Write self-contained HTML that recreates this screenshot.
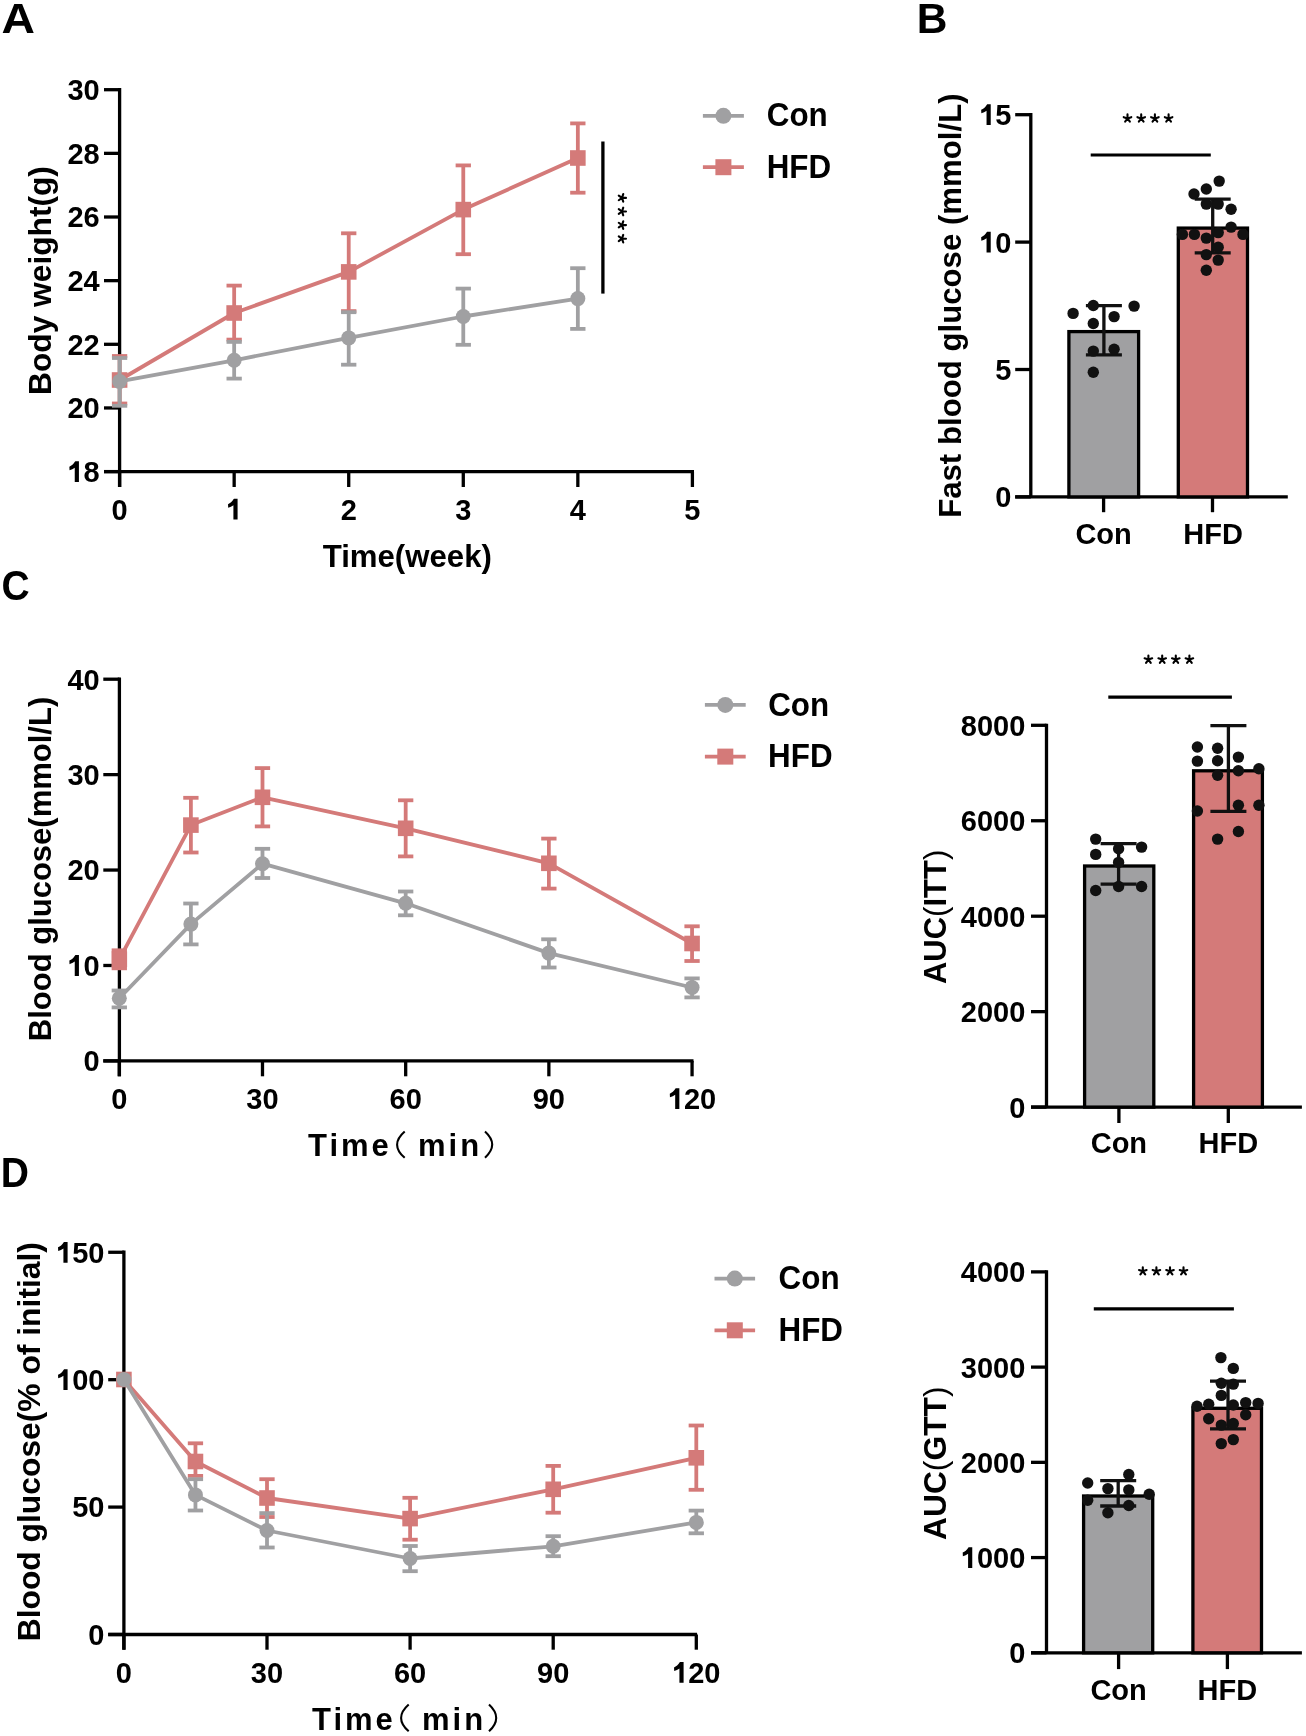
<!DOCTYPE html>
<html><head><meta charset="utf-8"><style>
html,body{margin:0;padding:0;background:#fff;}
svg{display:block;will-change:transform;}
text{font-family:"Liberation Sans",sans-serif;fill:#000;}
</style></head><body>
<svg width="1306" height="1736" viewBox="0 0 1306 1736">
<rect width="1306" height="1736" fill="#fff"/>
<text x="0" y="0" font-size="43.3" font-weight="bold" transform="translate(1.5 32.8) scale(1.07 1)">A</text>
<line x1="119.60" y1="88.05" x2="119.60" y2="487.00" stroke="#000" stroke-width="3.3" stroke-linecap="butt"/>
<line x1="104.00" y1="471.60" x2="119.60" y2="471.60" stroke="#000" stroke-width="3.3" stroke-linecap="butt"/>
<path d="M0.396,0 L0.252,0 L0.252,0.492 C0.20,0.45 0.14,0.425 0.072,0.405 L0.066,0.53 C0.14,0.56 0.21,0.62 0.262,0.705 L0.275,0.717 L0.396,0.717 Z" fill="#000" transform="translate(67.44 482.00) scale(29 -29)"/>
<text x="83.57" y="482.00" font-size="29" font-weight="bold">8</text>
<line x1="104.00" y1="407.95" x2="119.60" y2="407.95" stroke="#000" stroke-width="3.3" stroke-linecap="butt"/>
<text x="67.44" y="418.35" font-size="29" font-weight="bold">20</text>
<line x1="104.00" y1="344.30" x2="119.60" y2="344.30" stroke="#000" stroke-width="3.3" stroke-linecap="butt"/>
<text x="67.44" y="354.70" font-size="29" font-weight="bold">22</text>
<line x1="104.00" y1="280.65" x2="119.60" y2="280.65" stroke="#000" stroke-width="3.3" stroke-linecap="butt"/>
<text x="67.44" y="291.05" font-size="29" font-weight="bold">24</text>
<line x1="104.00" y1="217.00" x2="119.60" y2="217.00" stroke="#000" stroke-width="3.3" stroke-linecap="butt"/>
<text x="67.44" y="227.40" font-size="29" font-weight="bold">26</text>
<line x1="104.00" y1="153.35" x2="119.60" y2="153.35" stroke="#000" stroke-width="3.3" stroke-linecap="butt"/>
<text x="67.44" y="163.75" font-size="29" font-weight="bold">28</text>
<line x1="104.00" y1="89.70" x2="119.60" y2="89.70" stroke="#000" stroke-width="3.3" stroke-linecap="butt"/>
<text x="67.44" y="100.10" font-size="29" font-weight="bold">30</text>
<line x1="104.00" y1="471.60" x2="694.00" y2="471.60" stroke="#000" stroke-width="3.3" stroke-linecap="butt"/>
<line x1="119.60" y1="471.60" x2="119.60" y2="487.00" stroke="#000" stroke-width="3.3" stroke-linecap="butt"/>
<text x="111.54" y="519.50" font-size="29" font-weight="bold">0</text>
<line x1="234.16" y1="471.60" x2="234.16" y2="487.00" stroke="#000" stroke-width="3.3" stroke-linecap="butt"/>
<path d="M0.396,0 L0.252,0 L0.252,0.492 C0.20,0.45 0.14,0.425 0.072,0.405 L0.066,0.53 C0.14,0.56 0.21,0.62 0.262,0.705 L0.275,0.717 L0.396,0.717 Z" fill="#000" transform="translate(226.10 519.50) scale(29 -29)"/>
<line x1="348.72" y1="471.60" x2="348.72" y2="487.00" stroke="#000" stroke-width="3.3" stroke-linecap="butt"/>
<text x="340.66" y="519.50" font-size="29" font-weight="bold">2</text>
<line x1="463.28" y1="471.60" x2="463.28" y2="487.00" stroke="#000" stroke-width="3.3" stroke-linecap="butt"/>
<text x="455.22" y="519.50" font-size="29" font-weight="bold">3</text>
<line x1="577.84" y1="471.60" x2="577.84" y2="487.00" stroke="#000" stroke-width="3.3" stroke-linecap="butt"/>
<text x="569.78" y="519.50" font-size="29" font-weight="bold">4</text>
<line x1="692.40" y1="471.60" x2="692.40" y2="487.00" stroke="#000" stroke-width="3.3" stroke-linecap="butt"/>
<text x="684.34" y="519.50" font-size="29" font-weight="bold">5</text>
<text x="407.30" y="567.20" font-size="31.2" text-anchor="middle" font-weight="bold">Time(week)</text>
<text x="51.00" y="280.50" font-size="31.7" text-anchor="middle" font-weight="bold" transform="rotate(-90 51.00 280.50)">Body weight(g)</text>
<line x1="119.60" y1="356.00" x2="119.60" y2="403.50" stroke="#d47a79" stroke-width="3.8" stroke-linecap="butt"/>
<line x1="111.95" y1="356.00" x2="127.25" y2="356.00" stroke="#d47a79" stroke-width="3.8" stroke-linecap="butt"/>
<line x1="111.95" y1="403.50" x2="127.25" y2="403.50" stroke="#d47a79" stroke-width="3.8" stroke-linecap="butt"/>
<line x1="234.16" y1="285.60" x2="234.16" y2="339.60" stroke="#d47a79" stroke-width="3.8" stroke-linecap="butt"/>
<line x1="226.51" y1="285.60" x2="241.81" y2="285.60" stroke="#d47a79" stroke-width="3.8" stroke-linecap="butt"/>
<line x1="226.51" y1="339.60" x2="241.81" y2="339.60" stroke="#d47a79" stroke-width="3.8" stroke-linecap="butt"/>
<line x1="348.72" y1="233.30" x2="348.72" y2="311.10" stroke="#d47a79" stroke-width="3.8" stroke-linecap="butt"/>
<line x1="341.07" y1="233.30" x2="356.37" y2="233.30" stroke="#d47a79" stroke-width="3.8" stroke-linecap="butt"/>
<line x1="341.07" y1="311.10" x2="356.37" y2="311.10" stroke="#d47a79" stroke-width="3.8" stroke-linecap="butt"/>
<line x1="463.28" y1="165.40" x2="463.28" y2="254.20" stroke="#d47a79" stroke-width="3.8" stroke-linecap="butt"/>
<line x1="455.63" y1="165.40" x2="470.93" y2="165.40" stroke="#d47a79" stroke-width="3.8" stroke-linecap="butt"/>
<line x1="455.63" y1="254.20" x2="470.93" y2="254.20" stroke="#d47a79" stroke-width="3.8" stroke-linecap="butt"/>
<line x1="577.84" y1="123.40" x2="577.84" y2="192.70" stroke="#d47a79" stroke-width="3.8" stroke-linecap="butt"/>
<line x1="570.19" y1="123.40" x2="585.49" y2="123.40" stroke="#d47a79" stroke-width="3.8" stroke-linecap="butt"/>
<line x1="570.19" y1="192.70" x2="585.49" y2="192.70" stroke="#d47a79" stroke-width="3.8" stroke-linecap="butt"/>
<path d="M119.60,380.00 L234.16,313.00 L348.72,271.90 L463.28,209.60 L577.84,158.00" fill="none" stroke="#d47a79" stroke-width="3.8" stroke-linejoin="round"/>
<rect x="111.80" y="372.20" width="15.6" height="15.6" fill="#d47a79"/>
<rect x="226.36" y="305.20" width="15.6" height="15.6" fill="#d47a79"/>
<rect x="340.92" y="264.10" width="15.6" height="15.6" fill="#d47a79"/>
<rect x="455.48" y="201.80" width="15.6" height="15.6" fill="#d47a79"/>
<rect x="570.04" y="150.20" width="15.6" height="15.6" fill="#d47a79"/>
<line x1="119.60" y1="358.00" x2="119.60" y2="405.80" stroke="#a0a0a2" stroke-width="3.8" stroke-linecap="butt"/>
<line x1="111.95" y1="358.00" x2="127.25" y2="358.00" stroke="#a0a0a2" stroke-width="3.8" stroke-linecap="butt"/>
<line x1="111.95" y1="405.80" x2="127.25" y2="405.80" stroke="#a0a0a2" stroke-width="3.8" stroke-linecap="butt"/>
<line x1="234.16" y1="341.90" x2="234.16" y2="378.60" stroke="#a0a0a2" stroke-width="3.8" stroke-linecap="butt"/>
<line x1="226.51" y1="341.90" x2="241.81" y2="341.90" stroke="#a0a0a2" stroke-width="3.8" stroke-linecap="butt"/>
<line x1="226.51" y1="378.60" x2="241.81" y2="378.60" stroke="#a0a0a2" stroke-width="3.8" stroke-linecap="butt"/>
<line x1="348.72" y1="312.20" x2="348.72" y2="364.70" stroke="#a0a0a2" stroke-width="3.8" stroke-linecap="butt"/>
<line x1="341.07" y1="312.20" x2="356.37" y2="312.20" stroke="#a0a0a2" stroke-width="3.8" stroke-linecap="butt"/>
<line x1="341.07" y1="364.70" x2="356.37" y2="364.70" stroke="#a0a0a2" stroke-width="3.8" stroke-linecap="butt"/>
<line x1="463.28" y1="288.60" x2="463.28" y2="344.80" stroke="#a0a0a2" stroke-width="3.8" stroke-linecap="butt"/>
<line x1="455.63" y1="288.60" x2="470.93" y2="288.60" stroke="#a0a0a2" stroke-width="3.8" stroke-linecap="butt"/>
<line x1="455.63" y1="344.80" x2="470.93" y2="344.80" stroke="#a0a0a2" stroke-width="3.8" stroke-linecap="butt"/>
<line x1="577.84" y1="268.20" x2="577.84" y2="328.90" stroke="#a0a0a2" stroke-width="3.8" stroke-linecap="butt"/>
<line x1="570.19" y1="268.20" x2="585.49" y2="268.20" stroke="#a0a0a2" stroke-width="3.8" stroke-linecap="butt"/>
<line x1="570.19" y1="328.90" x2="585.49" y2="328.90" stroke="#a0a0a2" stroke-width="3.8" stroke-linecap="butt"/>
<path d="M119.60,381.40 L234.16,360.30 L348.72,337.90 L463.28,316.50 L577.84,298.60" fill="none" stroke="#a0a0a2" stroke-width="3.8" stroke-linejoin="round"/>
<circle cx="119.60" cy="381.40" r="7.5" fill="#a0a0a2"/>
<circle cx="234.16" cy="360.30" r="7.5" fill="#a0a0a2"/>
<circle cx="348.72" cy="337.90" r="7.5" fill="#a0a0a2"/>
<circle cx="463.28" cy="316.50" r="7.5" fill="#a0a0a2"/>
<circle cx="577.84" cy="298.60" r="7.5" fill="#a0a0a2"/>
<line x1="602.90" y1="141.50" x2="602.90" y2="293.60" stroke="#000" stroke-width="3.3" stroke-linecap="butt"/>
<path d="M622.00,197.90 L626.00,197.90 M622.00,197.90 L623.24,201.70 M622.00,197.90 L618.76,200.25 M622.00,197.90 L618.76,195.55 M622.00,197.90 L623.24,194.10 " stroke="#000" stroke-width="2.1" stroke-linecap="round" fill="none"/>
<path d="M622.00,211.50 L626.00,211.50 M622.00,211.50 L623.24,215.30 M622.00,211.50 L618.76,213.85 M622.00,211.50 L618.76,209.15 M622.00,211.50 L623.24,207.70 " stroke="#000" stroke-width="2.1" stroke-linecap="round" fill="none"/>
<path d="M622.00,225.10 L626.00,225.10 M622.00,225.10 L623.24,228.90 M622.00,225.10 L618.76,227.45 M622.00,225.10 L618.76,222.75 M622.00,225.10 L623.24,221.30 " stroke="#000" stroke-width="2.1" stroke-linecap="round" fill="none"/>
<path d="M622.00,238.70 L626.00,238.70 M622.00,238.70 L623.24,242.50 M622.00,238.70 L618.76,241.05 M622.00,238.70 L618.76,236.35 M622.00,238.70 L623.24,234.90 " stroke="#000" stroke-width="2.1" stroke-linecap="round" fill="none"/>
<line x1="702.90" y1="115.80" x2="743.90" y2="115.80" stroke="#a0a0a2" stroke-width="3.8" stroke-linecap="butt"/>
<circle cx="723.40" cy="115.80" r="8" fill="#a0a0a2"/>
<line x1="702.90" y1="167.20" x2="743.90" y2="167.20" stroke="#d47a79" stroke-width="3.8" stroke-linecap="butt"/>
<rect x="715.40" y="159.20" width="16" height="16" fill="#d47a79"/>
<text x="0" y="0" font-size="32.5" font-weight="bold" transform="translate(766.80 126.3) scale(0.965 1)">Con</text>
<text x="0" y="0" font-size="32.5" font-weight="bold" transform="translate(766.70 177.6) scale(0.965 1)">HFD</text>
<text x="0" y="0" font-size="43.3" font-weight="bold" transform="translate(916.8 32.8) scale(0.98 1)">B</text>
<line x1="1030.80" y1="113.05" x2="1030.80" y2="496.90" stroke="#000" stroke-width="3.3" stroke-linecap="butt"/>
<line x1="1015.20" y1="496.90" x2="1030.80" y2="496.90" stroke="#000" stroke-width="3.3" stroke-linecap="butt"/>
<text x="995.37" y="507.30" font-size="29" font-weight="bold">0</text>
<line x1="1015.20" y1="369.50" x2="1030.80" y2="369.50" stroke="#000" stroke-width="3.3" stroke-linecap="butt"/>
<text x="995.37" y="379.90" font-size="29" font-weight="bold">5</text>
<line x1="1015.20" y1="242.10" x2="1030.80" y2="242.10" stroke="#000" stroke-width="3.3" stroke-linecap="butt"/>
<path d="M0.396,0 L0.252,0 L0.252,0.492 C0.20,0.45 0.14,0.425 0.072,0.405 L0.066,0.53 C0.14,0.56 0.21,0.62 0.262,0.705 L0.275,0.717 L0.396,0.717 Z" fill="#000" transform="translate(979.24 252.50) scale(29 -29)"/>
<text x="995.37" y="252.50" font-size="29" font-weight="bold">0</text>
<line x1="1015.20" y1="114.70" x2="1030.80" y2="114.70" stroke="#000" stroke-width="3.3" stroke-linecap="butt"/>
<path d="M0.396,0 L0.252,0 L0.252,0.492 C0.20,0.45 0.14,0.425 0.072,0.405 L0.066,0.53 C0.14,0.56 0.21,0.62 0.262,0.705 L0.275,0.717 L0.396,0.717 Z" fill="#000" transform="translate(979.24 125.10) scale(29 -29)"/>
<text x="995.37" y="125.10" font-size="29" font-weight="bold">5</text>
<line x1="1015.20" y1="496.90" x2="1287.80" y2="496.90" stroke="#000" stroke-width="3.3" stroke-linecap="butt"/>
<line x1="1103.60" y1="496.90" x2="1103.60" y2="512.20" stroke="#000" stroke-width="3.3" stroke-linecap="butt"/>
<line x1="1212.50" y1="496.90" x2="1212.50" y2="512.20" stroke="#000" stroke-width="3.3" stroke-linecap="butt"/>
<text x="1103.60" y="543.70" font-size="29" text-anchor="middle" font-weight="bold">Con</text>
<text x="1213.10" y="543.70" font-size="29" text-anchor="middle" font-weight="bold">HFD</text>
<text x="961.00" y="305.60" font-size="31.2" text-anchor="middle" font-weight="bold" transform="rotate(-90 961.00 305.60)">Fast blood glucose (mmol/L)</text>
<rect x="1068.90" y="331.60" width="69.70" height="165.30" fill="#a0a0a2" stroke="#000" stroke-width="3.3"/>
<rect x="1178.30" y="228.10" width="69.20" height="268.80" fill="#d47a79" stroke="#000" stroke-width="3.3"/>
<line x1="1103.90" y1="305.70" x2="1103.90" y2="354.80" stroke="#111" stroke-width="3.3" stroke-linecap="butt"/>
<line x1="1085.90" y1="305.70" x2="1121.90" y2="305.70" stroke="#111" stroke-width="3.3" stroke-linecap="butt"/>
<line x1="1085.90" y1="354.80" x2="1121.90" y2="354.80" stroke="#111" stroke-width="3.3" stroke-linecap="butt"/>
<line x1="1212.70" y1="199.10" x2="1212.70" y2="252.80" stroke="#111" stroke-width="3.3" stroke-linecap="butt"/>
<line x1="1194.70" y1="199.10" x2="1230.70" y2="199.10" stroke="#111" stroke-width="3.3" stroke-linecap="butt"/>
<line x1="1194.70" y1="252.80" x2="1230.70" y2="252.80" stroke="#111" stroke-width="3.3" stroke-linecap="butt"/>
<circle cx="1073.10" cy="313.40" r="5.7" fill="#111"/>
<circle cx="1093.30" cy="305.50" r="5.7" fill="#111"/>
<circle cx="1134.10" cy="306.10" r="5.7" fill="#111"/>
<circle cx="1114.10" cy="316.60" r="5.7" fill="#111"/>
<circle cx="1093.30" cy="323.50" r="5.7" fill="#111"/>
<circle cx="1093.30" cy="351.10" r="5.7" fill="#111"/>
<circle cx="1114.10" cy="349.30" r="5.7" fill="#111"/>
<circle cx="1093.30" cy="372.20" r="5.7" fill="#111"/>
<circle cx="1219.20" cy="181.10" r="5.7" fill="#111"/>
<circle cx="1206.30" cy="189.00" r="5.7" fill="#111"/>
<circle cx="1194.00" cy="194.00" r="5.7" fill="#111"/>
<circle cx="1206.30" cy="204.10" r="5.7" fill="#111"/>
<circle cx="1218.20" cy="204.10" r="5.7" fill="#111"/>
<circle cx="1231.10" cy="209.20" r="5.7" fill="#111"/>
<circle cx="1231.10" cy="227.10" r="5.7" fill="#111"/>
<circle cx="1182.40" cy="234.40" r="5.7" fill="#111"/>
<circle cx="1194.40" cy="234.40" r="5.7" fill="#111"/>
<circle cx="1206.30" cy="238.10" r="5.7" fill="#111"/>
<circle cx="1218.20" cy="232.60" r="5.7" fill="#111"/>
<circle cx="1243.00" cy="234.40" r="5.7" fill="#111"/>
<circle cx="1218.20" cy="247.30" r="5.7" fill="#111"/>
<circle cx="1206.30" cy="254.60" r="5.7" fill="#111"/>
<circle cx="1218.20" cy="260.10" r="5.7" fill="#111"/>
<circle cx="1206.30" cy="270.30" r="5.7" fill="#111"/>
<line x1="1090.70" y1="155.00" x2="1210.80" y2="155.00" stroke="#000" stroke-width="3.2" stroke-linecap="butt"/>
<path d="M1127.50,118.40 L1127.50,114.40 M1127.50,118.40 L1131.30,117.16 M1127.50,118.40 L1129.85,121.64 M1127.50,118.40 L1125.15,121.64 M1127.50,118.40 L1123.70,117.16 " stroke="#000" stroke-width="2.1" stroke-linecap="round" fill="none"/>
<path d="M1141.20,118.40 L1141.20,114.40 M1141.20,118.40 L1145.00,117.16 M1141.20,118.40 L1143.55,121.64 M1141.20,118.40 L1138.85,121.64 M1141.20,118.40 L1137.40,117.16 " stroke="#000" stroke-width="2.1" stroke-linecap="round" fill="none"/>
<path d="M1154.90,118.40 L1154.90,114.40 M1154.90,118.40 L1158.70,117.16 M1154.90,118.40 L1157.25,121.64 M1154.90,118.40 L1152.55,121.64 M1154.90,118.40 L1151.10,117.16 " stroke="#000" stroke-width="2.1" stroke-linecap="round" fill="none"/>
<path d="M1168.60,118.40 L1168.60,114.40 M1168.60,118.40 L1172.40,117.16 M1168.60,118.40 L1170.95,121.64 M1168.60,118.40 L1166.25,121.64 M1168.60,118.40 L1164.80,117.16 " stroke="#000" stroke-width="2.1" stroke-linecap="round" fill="none"/>
<text x="0" y="0" font-size="43.3" font-weight="bold" transform="translate(1.5 599.6) scale(0.9 1)">C</text>
<line x1="119.40" y1="677.55" x2="119.40" y2="1076.30" stroke="#000" stroke-width="3.3" stroke-linecap="butt"/>
<line x1="103.30" y1="1060.90" x2="119.40" y2="1060.90" stroke="#000" stroke-width="3.3" stroke-linecap="butt"/>
<text x="83.57" y="1071.30" font-size="29" font-weight="bold">0</text>
<line x1="103.30" y1="965.48" x2="119.40" y2="965.48" stroke="#000" stroke-width="3.3" stroke-linecap="butt"/>
<path d="M0.396,0 L0.252,0 L0.252,0.492 C0.20,0.45 0.14,0.425 0.072,0.405 L0.066,0.53 C0.14,0.56 0.21,0.62 0.262,0.705 L0.275,0.717 L0.396,0.717 Z" fill="#000" transform="translate(67.44 975.88) scale(29 -29)"/>
<text x="83.57" y="975.88" font-size="29" font-weight="bold">0</text>
<line x1="103.30" y1="870.05" x2="119.40" y2="870.05" stroke="#000" stroke-width="3.3" stroke-linecap="butt"/>
<text x="67.44" y="880.45" font-size="29" font-weight="bold">20</text>
<line x1="103.30" y1="774.62" x2="119.40" y2="774.62" stroke="#000" stroke-width="3.3" stroke-linecap="butt"/>
<text x="67.44" y="785.02" font-size="29" font-weight="bold">30</text>
<line x1="103.30" y1="679.20" x2="119.40" y2="679.20" stroke="#000" stroke-width="3.3" stroke-linecap="butt"/>
<text x="67.44" y="689.60" font-size="29" font-weight="bold">40</text>
<line x1="103.30" y1="1060.90" x2="693.50" y2="1060.90" stroke="#000" stroke-width="3.3" stroke-linecap="butt"/>
<line x1="119.30" y1="1060.90" x2="119.30" y2="1076.30" stroke="#000" stroke-width="3.3" stroke-linecap="butt"/>
<text x="111.24" y="1109.00" font-size="29" font-weight="bold">0</text>
<line x1="262.49" y1="1060.90" x2="262.49" y2="1076.30" stroke="#000" stroke-width="3.3" stroke-linecap="butt"/>
<text x="246.36" y="1109.00" font-size="29" font-weight="bold">30</text>
<line x1="405.68" y1="1060.90" x2="405.68" y2="1076.30" stroke="#000" stroke-width="3.3" stroke-linecap="butt"/>
<text x="389.55" y="1109.00" font-size="29" font-weight="bold">60</text>
<line x1="548.87" y1="1060.90" x2="548.87" y2="1076.30" stroke="#000" stroke-width="3.3" stroke-linecap="butt"/>
<text x="532.74" y="1109.00" font-size="29" font-weight="bold">90</text>
<line x1="692.06" y1="1060.90" x2="692.06" y2="1076.30" stroke="#000" stroke-width="3.3" stroke-linecap="butt"/>
<path d="M0.396,0 L0.252,0 L0.252,0.492 C0.20,0.45 0.14,0.425 0.072,0.405 L0.066,0.53 C0.14,0.56 0.21,0.62 0.262,0.705 L0.275,0.717 L0.396,0.717 Z" fill="#000" transform="translate(667.87 1109.00) scale(29 -29)"/>
<text x="684.00" y="1109.00" font-size="29" font-weight="bold">2</text>
<text x="700.12" y="1109.00" font-size="29" font-weight="bold">0</text>
<text x="308.00" y="1156.10" font-size="31" text-anchor="start" font-weight="bold" letter-spacing="3">Time</text>
<path d="M404.7,1131.5 Q389.5,1144.7 404.7,1157.8" fill="none" stroke="#000" stroke-width="2.1"/>
<text x="418.00" y="1156.10" font-size="31" text-anchor="start" font-weight="bold" letter-spacing="3">min</text>
<path d="M485,1131.5 Q499.4,1144.6 485,1157.7" fill="none" stroke="#000" stroke-width="2.1"/>
<text x="51.00" y="869.00" font-size="31" text-anchor="middle" font-weight="bold" transform="rotate(-90 51.00 869.00)">Blood glucose(mmol/L)</text>
<line x1="119.30" y1="950.30" x2="119.30" y2="968.30" stroke="#d47a79" stroke-width="3.8" stroke-linecap="butt"/>
<line x1="111.65" y1="950.30" x2="126.95" y2="950.30" stroke="#d47a79" stroke-width="3.8" stroke-linecap="butt"/>
<line x1="111.65" y1="968.30" x2="126.95" y2="968.30" stroke="#d47a79" stroke-width="3.8" stroke-linecap="butt"/>
<line x1="190.89" y1="797.80" x2="190.89" y2="852.50" stroke="#d47a79" stroke-width="3.8" stroke-linecap="butt"/>
<line x1="183.24" y1="797.80" x2="198.54" y2="797.80" stroke="#d47a79" stroke-width="3.8" stroke-linecap="butt"/>
<line x1="183.24" y1="852.50" x2="198.54" y2="852.50" stroke="#d47a79" stroke-width="3.8" stroke-linecap="butt"/>
<line x1="262.49" y1="768.10" x2="262.49" y2="826.40" stroke="#d47a79" stroke-width="3.8" stroke-linecap="butt"/>
<line x1="254.84" y1="768.10" x2="270.14" y2="768.10" stroke="#d47a79" stroke-width="3.8" stroke-linecap="butt"/>
<line x1="254.84" y1="826.40" x2="270.14" y2="826.40" stroke="#d47a79" stroke-width="3.8" stroke-linecap="butt"/>
<line x1="405.68" y1="800.30" x2="405.68" y2="856.40" stroke="#d47a79" stroke-width="3.8" stroke-linecap="butt"/>
<line x1="398.03" y1="800.30" x2="413.33" y2="800.30" stroke="#d47a79" stroke-width="3.8" stroke-linecap="butt"/>
<line x1="398.03" y1="856.40" x2="413.33" y2="856.40" stroke="#d47a79" stroke-width="3.8" stroke-linecap="butt"/>
<line x1="548.87" y1="838.60" x2="548.87" y2="888.60" stroke="#d47a79" stroke-width="3.8" stroke-linecap="butt"/>
<line x1="541.22" y1="838.60" x2="556.52" y2="838.60" stroke="#d47a79" stroke-width="3.8" stroke-linecap="butt"/>
<line x1="541.22" y1="888.60" x2="556.52" y2="888.60" stroke="#d47a79" stroke-width="3.8" stroke-linecap="butt"/>
<line x1="692.06" y1="926.30" x2="692.06" y2="961.00" stroke="#d47a79" stroke-width="3.8" stroke-linecap="butt"/>
<line x1="684.41" y1="926.30" x2="699.71" y2="926.30" stroke="#d47a79" stroke-width="3.8" stroke-linecap="butt"/>
<line x1="684.41" y1="961.00" x2="699.71" y2="961.00" stroke="#d47a79" stroke-width="3.8" stroke-linecap="butt"/>
<path d="M119.30,959.30 L190.89,825.10 L262.49,797.30 L405.68,828.30 L548.87,863.30 L692.06,943.50" fill="none" stroke="#d47a79" stroke-width="3.8" stroke-linejoin="round"/>
<rect x="111.50" y="951.50" width="15.6" height="15.6" fill="#d47a79"/>
<rect x="183.09" y="817.30" width="15.6" height="15.6" fill="#d47a79"/>
<rect x="254.69" y="789.50" width="15.6" height="15.6" fill="#d47a79"/>
<rect x="397.88" y="820.50" width="15.6" height="15.6" fill="#d47a79"/>
<rect x="541.07" y="855.50" width="15.6" height="15.6" fill="#d47a79"/>
<rect x="684.26" y="935.70" width="15.6" height="15.6" fill="#d47a79"/>
<line x1="119.30" y1="990.50" x2="119.30" y2="1007.40" stroke="#a0a0a2" stroke-width="3.8" stroke-linecap="butt"/>
<line x1="111.65" y1="990.50" x2="126.95" y2="990.50" stroke="#a0a0a2" stroke-width="3.8" stroke-linecap="butt"/>
<line x1="111.65" y1="1007.40" x2="126.95" y2="1007.40" stroke="#a0a0a2" stroke-width="3.8" stroke-linecap="butt"/>
<line x1="190.89" y1="903.50" x2="190.89" y2="944.40" stroke="#a0a0a2" stroke-width="3.8" stroke-linecap="butt"/>
<line x1="183.24" y1="903.50" x2="198.54" y2="903.50" stroke="#a0a0a2" stroke-width="3.8" stroke-linecap="butt"/>
<line x1="183.24" y1="944.40" x2="198.54" y2="944.40" stroke="#a0a0a2" stroke-width="3.8" stroke-linecap="butt"/>
<line x1="262.49" y1="848.80" x2="262.49" y2="878.00" stroke="#a0a0a2" stroke-width="3.8" stroke-linecap="butt"/>
<line x1="254.84" y1="848.80" x2="270.14" y2="848.80" stroke="#a0a0a2" stroke-width="3.8" stroke-linecap="butt"/>
<line x1="254.84" y1="878.00" x2="270.14" y2="878.00" stroke="#a0a0a2" stroke-width="3.8" stroke-linecap="butt"/>
<line x1="405.68" y1="891.50" x2="405.68" y2="915.30" stroke="#a0a0a2" stroke-width="3.8" stroke-linecap="butt"/>
<line x1="398.03" y1="891.50" x2="413.33" y2="891.50" stroke="#a0a0a2" stroke-width="3.8" stroke-linecap="butt"/>
<line x1="398.03" y1="915.30" x2="413.33" y2="915.30" stroke="#a0a0a2" stroke-width="3.8" stroke-linecap="butt"/>
<line x1="548.87" y1="939.30" x2="548.87" y2="967.50" stroke="#a0a0a2" stroke-width="3.8" stroke-linecap="butt"/>
<line x1="541.22" y1="939.30" x2="556.52" y2="939.30" stroke="#a0a0a2" stroke-width="3.8" stroke-linecap="butt"/>
<line x1="541.22" y1="967.50" x2="556.52" y2="967.50" stroke="#a0a0a2" stroke-width="3.8" stroke-linecap="butt"/>
<line x1="692.06" y1="978.40" x2="692.06" y2="997.40" stroke="#a0a0a2" stroke-width="3.8" stroke-linecap="butt"/>
<line x1="684.41" y1="978.40" x2="699.71" y2="978.40" stroke="#a0a0a2" stroke-width="3.8" stroke-linecap="butt"/>
<line x1="684.41" y1="997.40" x2="699.71" y2="997.40" stroke="#a0a0a2" stroke-width="3.8" stroke-linecap="butt"/>
<path d="M119.30,998.30 L190.89,924.10 L262.49,863.70 L405.68,903.30 L548.87,953.10 L692.06,987.50" fill="none" stroke="#a0a0a2" stroke-width="3.8" stroke-linejoin="round"/>
<circle cx="119.30" cy="998.30" r="7.5" fill="#a0a0a2"/>
<circle cx="190.89" cy="924.10" r="7.5" fill="#a0a0a2"/>
<circle cx="262.49" cy="863.70" r="7.5" fill="#a0a0a2"/>
<circle cx="405.68" cy="903.30" r="7.5" fill="#a0a0a2"/>
<circle cx="548.87" cy="953.10" r="7.5" fill="#a0a0a2"/>
<circle cx="692.06" cy="987.50" r="7.5" fill="#a0a0a2"/>
<line x1="704.90" y1="704.90" x2="745.70" y2="704.90" stroke="#a0a0a2" stroke-width="3.8" stroke-linecap="butt"/>
<circle cx="725.30" cy="704.90" r="8" fill="#a0a0a2"/>
<line x1="704.90" y1="756.60" x2="745.70" y2="756.60" stroke="#d47a79" stroke-width="3.8" stroke-linecap="butt"/>
<rect x="717.30" y="748.60" width="16" height="16" fill="#d47a79"/>
<text x="0" y="0" font-size="32.5" font-weight="bold" transform="translate(768.20 715.6) scale(0.965 1)">Con</text>
<text x="0" y="0" font-size="32.5" font-weight="bold" transform="translate(768.10 766.8) scale(0.965 1)">HFD</text>
<line x1="1046.50" y1="723.65" x2="1046.50" y2="1107.10" stroke="#000" stroke-width="3.3" stroke-linecap="butt"/>
<line x1="1031.00" y1="1107.10" x2="1046.50" y2="1107.10" stroke="#000" stroke-width="3.3" stroke-linecap="butt"/>
<text x="1009.17" y="1117.50" font-size="29" font-weight="bold">0</text>
<line x1="1031.00" y1="1011.65" x2="1046.50" y2="1011.65" stroke="#000" stroke-width="3.3" stroke-linecap="butt"/>
<text x="960.78" y="1022.05" font-size="29" font-weight="bold">2000</text>
<line x1="1031.00" y1="916.20" x2="1046.50" y2="916.20" stroke="#000" stroke-width="3.3" stroke-linecap="butt"/>
<text x="960.78" y="926.60" font-size="29" font-weight="bold">4000</text>
<line x1="1031.00" y1="820.75" x2="1046.50" y2="820.75" stroke="#000" stroke-width="3.3" stroke-linecap="butt"/>
<text x="960.78" y="831.15" font-size="29" font-weight="bold">6000</text>
<line x1="1031.00" y1="725.30" x2="1046.50" y2="725.30" stroke="#000" stroke-width="3.3" stroke-linecap="butt"/>
<text x="960.78" y="735.70" font-size="29" font-weight="bold">8000</text>
<line x1="1031.00" y1="1107.10" x2="1301.90" y2="1107.10" stroke="#000" stroke-width="3.3" stroke-linecap="butt"/>
<line x1="1118.90" y1="1107.10" x2="1118.90" y2="1123.00" stroke="#000" stroke-width="3.3" stroke-linecap="butt"/>
<line x1="1228.30" y1="1107.10" x2="1228.30" y2="1123.00" stroke="#000" stroke-width="3.3" stroke-linecap="butt"/>
<text x="1118.90" y="1153.40" font-size="29" text-anchor="middle" font-weight="bold">Con</text>
<text x="1228.30" y="1153.40" font-size="29" text-anchor="middle" font-weight="bold">HFD</text>
<text x="945.80" y="916.90" font-size="31" text-anchor="middle" font-weight="bold" transform="rotate(-90 945.80 916.90)">AUC<tspan font-weight="normal">(</tspan>ITT<tspan font-weight="normal">)</tspan></text>
<rect x="1084.60" y="866.00" width="69.20" height="241.10" fill="#a0a0a2" stroke="#000" stroke-width="3.3"/>
<rect x="1193.60" y="770.80" width="68.80" height="336.30" fill="#d47a79" stroke="#000" stroke-width="3.3"/>
<line x1="1118.60" y1="843.60" x2="1118.60" y2="884.10" stroke="#111" stroke-width="3.3" stroke-linecap="butt"/>
<line x1="1100.60" y1="843.60" x2="1136.60" y2="843.60" stroke="#111" stroke-width="3.3" stroke-linecap="butt"/>
<line x1="1100.60" y1="884.10" x2="1136.60" y2="884.10" stroke="#111" stroke-width="3.3" stroke-linecap="butt"/>
<line x1="1228.40" y1="725.70" x2="1228.40" y2="811.40" stroke="#111" stroke-width="3.3" stroke-linecap="butt"/>
<line x1="1210.40" y1="725.70" x2="1246.40" y2="725.70" stroke="#111" stroke-width="3.3" stroke-linecap="butt"/>
<line x1="1210.40" y1="811.40" x2="1246.40" y2="811.40" stroke="#111" stroke-width="3.3" stroke-linecap="butt"/>
<circle cx="1095.70" cy="839.10" r="5.7" fill="#111"/>
<circle cx="1095.70" cy="854.40" r="5.7" fill="#111"/>
<circle cx="1118.60" cy="848.70" r="5.7" fill="#111"/>
<circle cx="1141.60" cy="847.10" r="5.7" fill="#111"/>
<circle cx="1118.60" cy="862.40" r="5.7" fill="#111"/>
<circle cx="1095.70" cy="890.50" r="5.7" fill="#111"/>
<circle cx="1118.60" cy="886.50" r="5.7" fill="#111"/>
<circle cx="1141.60" cy="886.50" r="5.7" fill="#111"/>
<circle cx="1197.40" cy="747.00" r="5.7" fill="#111"/>
<circle cx="1217.60" cy="748.20" r="5.7" fill="#111"/>
<circle cx="1197.40" cy="761.10" r="5.7" fill="#111"/>
<circle cx="1217.60" cy="760.80" r="5.7" fill="#111"/>
<circle cx="1238.40" cy="757.10" r="5.7" fill="#111"/>
<circle cx="1217.60" cy="775.30" r="5.7" fill="#111"/>
<circle cx="1238.40" cy="770.80" r="5.7" fill="#111"/>
<circle cx="1258.90" cy="768.80" r="5.7" fill="#111"/>
<circle cx="1197.40" cy="811.00" r="5.7" fill="#111"/>
<circle cx="1238.40" cy="805.30" r="5.7" fill="#111"/>
<circle cx="1258.90" cy="805.30" r="5.7" fill="#111"/>
<circle cx="1217.60" cy="839.10" r="5.7" fill="#111"/>
<circle cx="1238.40" cy="831.50" r="5.7" fill="#111"/>
<line x1="1108.30" y1="697.10" x2="1231.90" y2="697.10" stroke="#000" stroke-width="3.2" stroke-linecap="butt"/>
<path d="M1148.40,659.60 L1148.40,655.60 M1148.40,659.60 L1152.20,658.36 M1148.40,659.60 L1150.75,662.84 M1148.40,659.60 L1146.05,662.84 M1148.40,659.60 L1144.60,658.36 " stroke="#000" stroke-width="2.1" stroke-linecap="round" fill="none"/>
<path d="M1162.20,659.60 L1162.20,655.60 M1162.20,659.60 L1166.00,658.36 M1162.20,659.60 L1164.55,662.84 M1162.20,659.60 L1159.85,662.84 M1162.20,659.60 L1158.40,658.36 " stroke="#000" stroke-width="2.1" stroke-linecap="round" fill="none"/>
<path d="M1175.80,659.60 L1175.80,655.60 M1175.80,659.60 L1179.60,658.36 M1175.80,659.60 L1178.15,662.84 M1175.80,659.60 L1173.45,662.84 M1175.80,659.60 L1172.00,658.36 " stroke="#000" stroke-width="2.1" stroke-linecap="round" fill="none"/>
<path d="M1189.40,659.60 L1189.40,655.60 M1189.40,659.60 L1193.20,658.36 M1189.40,659.60 L1191.75,662.84 M1189.40,659.60 L1187.05,662.84 M1189.40,659.60 L1185.60,658.36 " stroke="#000" stroke-width="2.1" stroke-linecap="round" fill="none"/>
<text x="0" y="0" font-size="42.5" font-weight="bold" transform="translate(0.8 1187.2) scale(0.92 1)">D</text>
<line x1="123.90" y1="1250.62" x2="123.90" y2="1649.70" stroke="#000" stroke-width="3.3" stroke-linecap="butt"/>
<line x1="108.20" y1="1634.50" x2="123.90" y2="1634.50" stroke="#000" stroke-width="3.3" stroke-linecap="butt"/>
<text x="88.37" y="1644.90" font-size="29" font-weight="bold">0</text>
<line x1="108.20" y1="1507.09" x2="123.90" y2="1507.09" stroke="#000" stroke-width="3.3" stroke-linecap="butt"/>
<text x="72.24" y="1517.49" font-size="29" font-weight="bold">50</text>
<line x1="108.20" y1="1379.68" x2="123.90" y2="1379.68" stroke="#000" stroke-width="3.3" stroke-linecap="butt"/>
<path d="M0.396,0 L0.252,0 L0.252,0.492 C0.20,0.45 0.14,0.425 0.072,0.405 L0.066,0.53 C0.14,0.56 0.21,0.62 0.262,0.705 L0.275,0.717 L0.396,0.717 Z" fill="#000" transform="translate(56.11 1390.08) scale(29 -29)"/>
<text x="72.24" y="1390.08" font-size="29" font-weight="bold">0</text>
<text x="88.37" y="1390.08" font-size="29" font-weight="bold">0</text>
<line x1="108.20" y1="1252.27" x2="123.90" y2="1252.27" stroke="#000" stroke-width="3.3" stroke-linecap="butt"/>
<path d="M0.396,0 L0.252,0 L0.252,0.492 C0.20,0.45 0.14,0.425 0.072,0.405 L0.066,0.53 C0.14,0.56 0.21,0.62 0.262,0.705 L0.275,0.717 L0.396,0.717 Z" fill="#000" transform="translate(56.11 1262.67) scale(29 -29)"/>
<text x="72.24" y="1262.67" font-size="29" font-weight="bold">5</text>
<text x="88.37" y="1262.67" font-size="29" font-weight="bold">0</text>
<line x1="108.20" y1="1634.50" x2="697.10" y2="1634.50" stroke="#000" stroke-width="3.3" stroke-linecap="butt"/>
<line x1="123.90" y1="1634.50" x2="123.90" y2="1649.70" stroke="#000" stroke-width="3.3" stroke-linecap="butt"/>
<text x="115.84" y="1682.80" font-size="29" font-weight="bold">0</text>
<line x1="267.00" y1="1634.50" x2="267.00" y2="1649.70" stroke="#000" stroke-width="3.3" stroke-linecap="butt"/>
<text x="250.87" y="1682.80" font-size="29" font-weight="bold">30</text>
<line x1="410.10" y1="1634.50" x2="410.10" y2="1649.70" stroke="#000" stroke-width="3.3" stroke-linecap="butt"/>
<text x="393.97" y="1682.80" font-size="29" font-weight="bold">60</text>
<line x1="553.20" y1="1634.50" x2="553.20" y2="1649.70" stroke="#000" stroke-width="3.3" stroke-linecap="butt"/>
<text x="537.07" y="1682.80" font-size="29" font-weight="bold">90</text>
<line x1="696.30" y1="1634.50" x2="696.30" y2="1649.70" stroke="#000" stroke-width="3.3" stroke-linecap="butt"/>
<path d="M0.396,0 L0.252,0 L0.252,0.492 C0.20,0.45 0.14,0.425 0.072,0.405 L0.066,0.53 C0.14,0.56 0.21,0.62 0.262,0.705 L0.275,0.717 L0.396,0.717 Z" fill="#000" transform="translate(672.11 1682.80) scale(29 -29)"/>
<text x="688.24" y="1682.80" font-size="29" font-weight="bold">2</text>
<text x="704.36" y="1682.80" font-size="29" font-weight="bold">0</text>
<text x="312.00" y="1729.70" font-size="31" text-anchor="start" font-weight="bold" letter-spacing="3">Time</text>
<path d="M408.7,1704.5 Q393.5,1717.9 408.7,1731.3" fill="none" stroke="#000" stroke-width="2.1"/>
<text x="422.00" y="1729.70" font-size="31" text-anchor="start" font-weight="bold" letter-spacing="3">min</text>
<path d="M489,1704.5 Q503.4,1717.9 489,1731.3" fill="none" stroke="#000" stroke-width="2.1"/>
<text x="40.00" y="1441.70" font-size="31.8" text-anchor="middle" font-weight="bold" transform="rotate(-90 40.00 1441.70)">Blood glucose(% of initial)</text>
<line x1="195.45" y1="1443.30" x2="195.45" y2="1475.90" stroke="#d47a79" stroke-width="3.8" stroke-linecap="butt"/>
<line x1="187.80" y1="1443.30" x2="203.10" y2="1443.30" stroke="#d47a79" stroke-width="3.8" stroke-linecap="butt"/>
<line x1="187.80" y1="1475.90" x2="203.10" y2="1475.90" stroke="#d47a79" stroke-width="3.8" stroke-linecap="butt"/>
<line x1="267.00" y1="1479.20" x2="267.00" y2="1517.00" stroke="#d47a79" stroke-width="3.8" stroke-linecap="butt"/>
<line x1="259.35" y1="1479.20" x2="274.65" y2="1479.20" stroke="#d47a79" stroke-width="3.8" stroke-linecap="butt"/>
<line x1="259.35" y1="1517.00" x2="274.65" y2="1517.00" stroke="#d47a79" stroke-width="3.8" stroke-linecap="butt"/>
<line x1="410.10" y1="1497.80" x2="410.10" y2="1539.70" stroke="#d47a79" stroke-width="3.8" stroke-linecap="butt"/>
<line x1="402.45" y1="1497.80" x2="417.75" y2="1497.80" stroke="#d47a79" stroke-width="3.8" stroke-linecap="butt"/>
<line x1="402.45" y1="1539.70" x2="417.75" y2="1539.70" stroke="#d47a79" stroke-width="3.8" stroke-linecap="butt"/>
<line x1="553.20" y1="1465.90" x2="553.20" y2="1512.70" stroke="#d47a79" stroke-width="3.8" stroke-linecap="butt"/>
<line x1="545.55" y1="1465.90" x2="560.85" y2="1465.90" stroke="#d47a79" stroke-width="3.8" stroke-linecap="butt"/>
<line x1="545.55" y1="1512.70" x2="560.85" y2="1512.70" stroke="#d47a79" stroke-width="3.8" stroke-linecap="butt"/>
<line x1="696.30" y1="1425.50" x2="696.30" y2="1489.80" stroke="#d47a79" stroke-width="3.8" stroke-linecap="butt"/>
<line x1="688.65" y1="1425.50" x2="703.95" y2="1425.50" stroke="#d47a79" stroke-width="3.8" stroke-linecap="butt"/>
<line x1="688.65" y1="1489.80" x2="703.95" y2="1489.80" stroke="#d47a79" stroke-width="3.8" stroke-linecap="butt"/>
<path d="M123.90,1379.50 L195.45,1461.50 L267.00,1498.00 L410.10,1518.60 L553.20,1489.30 L696.30,1457.80" fill="none" stroke="#d47a79" stroke-width="3.8" stroke-linejoin="round"/>
<rect x="116.10" y="1371.70" width="15.6" height="15.6" fill="#d47a79"/>
<rect x="187.65" y="1453.70" width="15.6" height="15.6" fill="#d47a79"/>
<rect x="259.20" y="1490.20" width="15.6" height="15.6" fill="#d47a79"/>
<rect x="402.30" y="1510.80" width="15.6" height="15.6" fill="#d47a79"/>
<rect x="545.40" y="1481.50" width="15.6" height="15.6" fill="#d47a79"/>
<rect x="688.50" y="1450.00" width="15.6" height="15.6" fill="#d47a79"/>
<line x1="195.45" y1="1479.20" x2="195.45" y2="1510.50" stroke="#a0a0a2" stroke-width="3.8" stroke-linecap="butt"/>
<line x1="187.80" y1="1479.20" x2="203.10" y2="1479.20" stroke="#a0a0a2" stroke-width="3.8" stroke-linecap="butt"/>
<line x1="187.80" y1="1510.50" x2="203.10" y2="1510.50" stroke="#a0a0a2" stroke-width="3.8" stroke-linecap="butt"/>
<line x1="267.00" y1="1513.10" x2="267.00" y2="1547.50" stroke="#a0a0a2" stroke-width="3.8" stroke-linecap="butt"/>
<line x1="259.35" y1="1513.10" x2="274.65" y2="1513.10" stroke="#a0a0a2" stroke-width="3.8" stroke-linecap="butt"/>
<line x1="259.35" y1="1547.50" x2="274.65" y2="1547.50" stroke="#a0a0a2" stroke-width="3.8" stroke-linecap="butt"/>
<line x1="410.10" y1="1546.00" x2="410.10" y2="1571.20" stroke="#a0a0a2" stroke-width="3.8" stroke-linecap="butt"/>
<line x1="402.45" y1="1546.00" x2="417.75" y2="1546.00" stroke="#a0a0a2" stroke-width="3.8" stroke-linecap="butt"/>
<line x1="402.45" y1="1571.20" x2="417.75" y2="1571.20" stroke="#a0a0a2" stroke-width="3.8" stroke-linecap="butt"/>
<line x1="553.20" y1="1536.20" x2="553.20" y2="1556.20" stroke="#a0a0a2" stroke-width="3.8" stroke-linecap="butt"/>
<line x1="545.55" y1="1536.20" x2="560.85" y2="1536.20" stroke="#a0a0a2" stroke-width="3.8" stroke-linecap="butt"/>
<line x1="545.55" y1="1556.20" x2="560.85" y2="1556.20" stroke="#a0a0a2" stroke-width="3.8" stroke-linecap="butt"/>
<line x1="696.30" y1="1510.60" x2="696.30" y2="1533.30" stroke="#a0a0a2" stroke-width="3.8" stroke-linecap="butt"/>
<line x1="688.65" y1="1510.60" x2="703.95" y2="1510.60" stroke="#a0a0a2" stroke-width="3.8" stroke-linecap="butt"/>
<line x1="688.65" y1="1533.30" x2="703.95" y2="1533.30" stroke="#a0a0a2" stroke-width="3.8" stroke-linecap="butt"/>
<path d="M123.90,1379.50 L195.45,1494.90 L267.00,1530.50 L410.10,1558.50 L553.20,1546.30 L696.30,1522.40" fill="none" stroke="#a0a0a2" stroke-width="3.8" stroke-linejoin="round"/>
<circle cx="123.90" cy="1379.50" r="7.5" fill="#a0a0a2"/>
<circle cx="195.45" cy="1494.90" r="7.5" fill="#a0a0a2"/>
<circle cx="267.00" cy="1530.50" r="7.5" fill="#a0a0a2"/>
<circle cx="410.10" cy="1558.50" r="7.5" fill="#a0a0a2"/>
<circle cx="553.20" cy="1546.30" r="7.5" fill="#a0a0a2"/>
<circle cx="696.30" cy="1522.40" r="7.5" fill="#a0a0a2"/>
<line x1="714.50" y1="1278.60" x2="755.10" y2="1278.60" stroke="#a0a0a2" stroke-width="3.8" stroke-linecap="butt"/>
<circle cx="734.80" cy="1278.60" r="8" fill="#a0a0a2"/>
<line x1="714.50" y1="1330.30" x2="755.10" y2="1330.30" stroke="#d47a79" stroke-width="3.8" stroke-linecap="butt"/>
<rect x="726.80" y="1322.30" width="16" height="16" fill="#d47a79"/>
<text x="0" y="0" font-size="32.5" font-weight="bold" transform="translate(778.60 1289) scale(0.965 1)">Con</text>
<text x="0" y="0" font-size="32.5" font-weight="bold" transform="translate(778.50 1340.5) scale(0.965 1)">HFD</text>
<line x1="1046.50" y1="1270.23" x2="1046.50" y2="1652.80" stroke="#000" stroke-width="3.3" stroke-linecap="butt"/>
<line x1="1031.00" y1="1652.80" x2="1046.50" y2="1652.80" stroke="#000" stroke-width="3.3" stroke-linecap="butt"/>
<text x="1009.17" y="1663.20" font-size="29" font-weight="bold">0</text>
<line x1="1031.00" y1="1557.57" x2="1046.50" y2="1557.57" stroke="#000" stroke-width="3.3" stroke-linecap="butt"/>
<path d="M0.396,0 L0.252,0 L0.252,0.492 C0.20,0.45 0.14,0.425 0.072,0.405 L0.066,0.53 C0.14,0.56 0.21,0.62 0.262,0.705 L0.275,0.717 L0.396,0.717 Z" fill="#000" transform="translate(960.78 1567.97) scale(29 -29)"/>
<text x="976.91" y="1567.97" font-size="29" font-weight="bold">0</text>
<text x="993.04" y="1567.97" font-size="29" font-weight="bold">0</text>
<text x="1009.17" y="1567.97" font-size="29" font-weight="bold">0</text>
<line x1="1031.00" y1="1462.34" x2="1046.50" y2="1462.34" stroke="#000" stroke-width="3.3" stroke-linecap="butt"/>
<text x="960.78" y="1472.74" font-size="29" font-weight="bold">2000</text>
<line x1="1031.00" y1="1367.11" x2="1046.50" y2="1367.11" stroke="#000" stroke-width="3.3" stroke-linecap="butt"/>
<text x="960.78" y="1377.51" font-size="29" font-weight="bold">3000</text>
<line x1="1031.00" y1="1271.88" x2="1046.50" y2="1271.88" stroke="#000" stroke-width="3.3" stroke-linecap="butt"/>
<text x="960.78" y="1282.28" font-size="29" font-weight="bold">4000</text>
<line x1="1031.00" y1="1652.80" x2="1301.90" y2="1652.80" stroke="#000" stroke-width="3.3" stroke-linecap="butt"/>
<line x1="1118.60" y1="1652.80" x2="1118.60" y2="1669.10" stroke="#000" stroke-width="3.3" stroke-linecap="butt"/>
<line x1="1227.40" y1="1652.80" x2="1227.40" y2="1669.10" stroke="#000" stroke-width="3.3" stroke-linecap="butt"/>
<text x="1118.60" y="1700.10" font-size="29" text-anchor="middle" font-weight="bold">Con</text>
<text x="1227.40" y="1700.10" font-size="29" text-anchor="middle" font-weight="bold">HFD</text>
<text x="946.30" y="1463.20" font-size="31.8" text-anchor="middle" font-weight="bold" transform="rotate(-90 946.30 1463.20)">AUC<tspan font-weight="normal">(</tspan>GTT<tspan font-weight="normal">)</tspan></text>
<rect x="1083.60" y="1496.00" width="69.10" height="156.80" fill="#a0a0a2" stroke="#000" stroke-width="3.3"/>
<rect x="1192.90" y="1408.30" width="68.60" height="244.50" fill="#d47a79" stroke="#000" stroke-width="3.3"/>
<line x1="1118.20" y1="1480.60" x2="1118.20" y2="1506.00" stroke="#111" stroke-width="3.3" stroke-linecap="butt"/>
<line x1="1100.20" y1="1480.60" x2="1136.20" y2="1480.60" stroke="#111" stroke-width="3.3" stroke-linecap="butt"/>
<line x1="1100.20" y1="1506.00" x2="1136.20" y2="1506.00" stroke="#111" stroke-width="3.3" stroke-linecap="butt"/>
<line x1="1228.00" y1="1381.20" x2="1228.00" y2="1428.80" stroke="#111" stroke-width="3.3" stroke-linecap="butt"/>
<line x1="1210.00" y1="1381.20" x2="1246.00" y2="1381.20" stroke="#111" stroke-width="3.3" stroke-linecap="butt"/>
<line x1="1210.00" y1="1428.80" x2="1246.00" y2="1428.80" stroke="#111" stroke-width="3.3" stroke-linecap="butt"/>
<circle cx="1087.70" cy="1483.00" r="5.7" fill="#111"/>
<circle cx="1107.90" cy="1488.60" r="5.7" fill="#111"/>
<circle cx="1128.80" cy="1474.50" r="5.7" fill="#111"/>
<circle cx="1128.80" cy="1489.90" r="5.7" fill="#111"/>
<circle cx="1149.20" cy="1494.30" r="5.7" fill="#111"/>
<circle cx="1087.70" cy="1500.20" r="5.7" fill="#111"/>
<circle cx="1128.80" cy="1505.50" r="5.7" fill="#111"/>
<circle cx="1107.90" cy="1512.80" r="5.7" fill="#111"/>
<circle cx="1220.90" cy="1357.60" r="5.7" fill="#111"/>
<circle cx="1233.30" cy="1368.40" r="5.7" fill="#111"/>
<circle cx="1221.30" cy="1383.30" r="5.7" fill="#111"/>
<circle cx="1233.30" cy="1384.10" r="5.7" fill="#111"/>
<circle cx="1221.30" cy="1395.40" r="5.7" fill="#111"/>
<circle cx="1197.00" cy="1406.30" r="5.7" fill="#111"/>
<circle cx="1208.70" cy="1404.20" r="5.7" fill="#111"/>
<circle cx="1233.30" cy="1405.00" r="5.7" fill="#111"/>
<circle cx="1245.70" cy="1402.60" r="5.7" fill="#111"/>
<circle cx="1258.10" cy="1403.40" r="5.7" fill="#111"/>
<circle cx="1208.70" cy="1418.70" r="5.7" fill="#111"/>
<circle cx="1245.70" cy="1414.70" r="5.7" fill="#111"/>
<circle cx="1221.30" cy="1425.10" r="5.7" fill="#111"/>
<circle cx="1233.30" cy="1423.50" r="5.7" fill="#111"/>
<circle cx="1221.30" cy="1443.60" r="5.7" fill="#111"/>
<circle cx="1233.30" cy="1439.60" r="5.7" fill="#111"/>
<line x1="1093.80" y1="1308.90" x2="1233.90" y2="1308.90" stroke="#000" stroke-width="3.2" stroke-linecap="butt"/>
<path d="M1142.80,1271.20 L1142.80,1267.20 M1142.80,1271.20 L1146.60,1269.96 M1142.80,1271.20 L1145.15,1274.44 M1142.80,1271.20 L1140.45,1274.44 M1142.80,1271.20 L1139.00,1269.96 " stroke="#000" stroke-width="2.1" stroke-linecap="round" fill="none"/>
<path d="M1156.40,1271.20 L1156.40,1267.20 M1156.40,1271.20 L1160.20,1269.96 M1156.40,1271.20 L1158.75,1274.44 M1156.40,1271.20 L1154.05,1274.44 M1156.40,1271.20 L1152.60,1269.96 " stroke="#000" stroke-width="2.1" stroke-linecap="round" fill="none"/>
<path d="M1170.00,1271.20 L1170.00,1267.20 M1170.00,1271.20 L1173.80,1269.96 M1170.00,1271.20 L1172.35,1274.44 M1170.00,1271.20 L1167.65,1274.44 M1170.00,1271.20 L1166.20,1269.96 " stroke="#000" stroke-width="2.1" stroke-linecap="round" fill="none"/>
<path d="M1183.50,1271.20 L1183.50,1267.20 M1183.50,1271.20 L1187.30,1269.96 M1183.50,1271.20 L1185.85,1274.44 M1183.50,1271.20 L1181.15,1274.44 M1183.50,1271.20 L1179.70,1269.96 " stroke="#000" stroke-width="2.1" stroke-linecap="round" fill="none"/>
</svg></body></html>
